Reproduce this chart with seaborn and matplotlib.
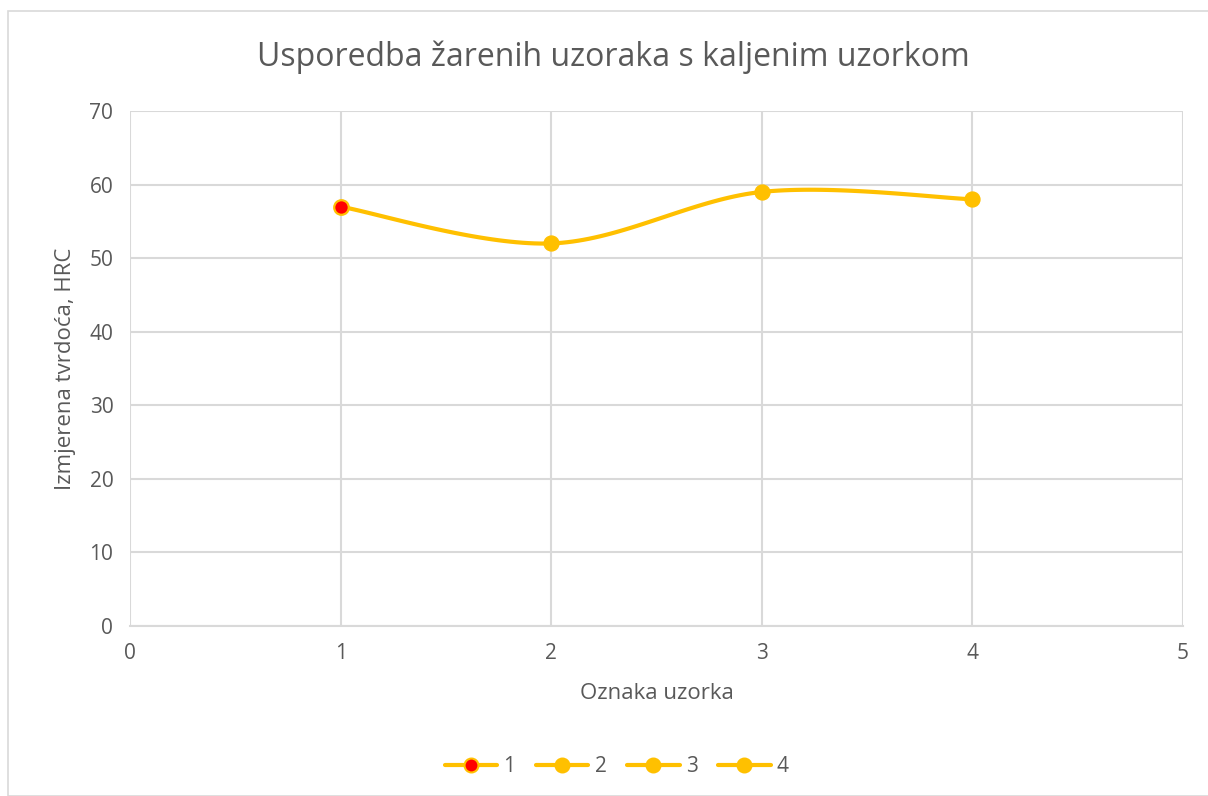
import numpy as np
import pandas as pd
import seaborn as sns
import matplotlib
matplotlib.use("Agg")
import matplotlib.pyplot as plt
from matplotlib.lines import Line2D
from matplotlib.patches import Rectangle

# Sample labels and measured hardness values
uzorci = [1, 2, 3, 4]
tvrdoca = [57, 52, 59, 58]
serije = ["1", "2", "3", "4"]

x_ticks = [0, 1, 2, 3, 4, 5]
y_ticks = [0, 10, 20, 30, 40, 50, 60, 70]

GOLD = "#FFC000"
GRID = "#D9D9D9"
TXT = "#595959"

sns.set_theme(style="white")
plt.rcParams["font.family"] = ["Open Sans", "DejaVu Sans"]


def smooth_curve(xs, ys, steps=40):
    """Excel-style smoothed line: cubic Bezier segments with Catmull-Rom tangents."""
    pts = np.column_stack([xs, ys]).astype(float)
    ext = np.vstack([pts[0], pts, pts[-1]])
    out = []
    t = np.linspace(0, 1, steps)[:, None]
    for i in range(1, len(ext) - 2):
        p0, p1, p2, p3 = ext[i - 1], ext[i], ext[i + 1], ext[i + 2]
        c1 = p1 + (p2 - p0) / 6
        c2 = p2 - (p3 - p1) / 6
        seg = ((1 - t) ** 3) * p1 + 3 * ((1 - t) ** 2) * t * c1 + 3 * (1 - t) * t ** 2 * c2 + t ** 3 * p2
        out.append(seg if i == 1 else seg[1:])
    out = np.vstack(out)
    return out[:, 0], out[:, 1]


fig = plt.figure(figsize=(12.08, 7.96), dpi=100)
fig.patches.append(Rectangle((8 / 1208, 0), 1.0, 1 - 11 / 796, transform=fig.transFigure,
                             fill=False, edgecolor=GRID, linewidth=1.2))
ax = fig.add_axes([130 / 1208, 1 - 626 / 796, (1183 - 130) / 1208, (626 - 111) / 796])

sx, sy = smooth_curve(uzorci, tvrdoca)
curve = pd.DataFrame({"x": sx, "y": sy})
sns.lineplot(data=curve, x="x", y="y", ax=ax, color=GOLD, linewidth=3, sort=False,
             estimator=None, zorder=3)

points = pd.DataFrame({"x": uzorci, "y": tvrdoca})
ax.scatter(points["x"][1:], points["y"][1:], s=115, color=GOLD, edgecolor=GOLD, zorder=4)
ax.scatter(points["x"][:1], points["y"][:1], s=110, color="#FF0000", edgecolor=GOLD,
           linewidth=1.6, zorder=4)

ax.set_xlim(0, 5)
ax.set_ylim(0, 70)
ax.set_xticks(x_ticks)
ax.set_yticks(y_ticks)
ax.grid(True, color=GRID, linewidth=1.5)
ax.set_axisbelow(True)
for side in ["top", "right", "left"]:
    ax.spines[side].set_visible(False)
ax.spines["bottom"].set_color(GRID)
ax.spines["bottom"].set_linewidth(1.5)
ax.tick_params(axis="both", length=0, labelsize=15, labelcolor=TXT, pad=12)

ax.set_xlabel("Oznaka uzorka", fontsize=16, color=TXT, labelpad=14)
ax.set_ylabel("Izmjerena tvrdoća, HRC", fontsize=16, color=TXT, labelpad=10)
fig.text(613 / 1208, 1 - 57 / 796, "Usporedba žarenih uzoraka s kaljenim uzorkom",
         ha="center", va="center", fontsize=23, color=TXT)

handles = []
for i, s in enumerate(serije):
    face = "#FF0000" if i == 0 else GOLD
    handles.append(Line2D([0], [0], color=GOLD, linewidth=3, marker="o", markersize=10,
                          markerfacecolor=face, markeredgecolor=GOLD, markeredgewidth=1.5))
leg = fig.legend(handles, serije, loc="center", bbox_to_anchor=(617 / 1208, 1 - 767 / 796),
                 ncol=4, frameon=False, fontsize=15, handlelength=2.5, columnspacing=1.0,
                 handletextpad=0.3)
for t in leg.get_texts():
    t.set_color(TXT)

fig.savefig("out.png", dpi=100)
